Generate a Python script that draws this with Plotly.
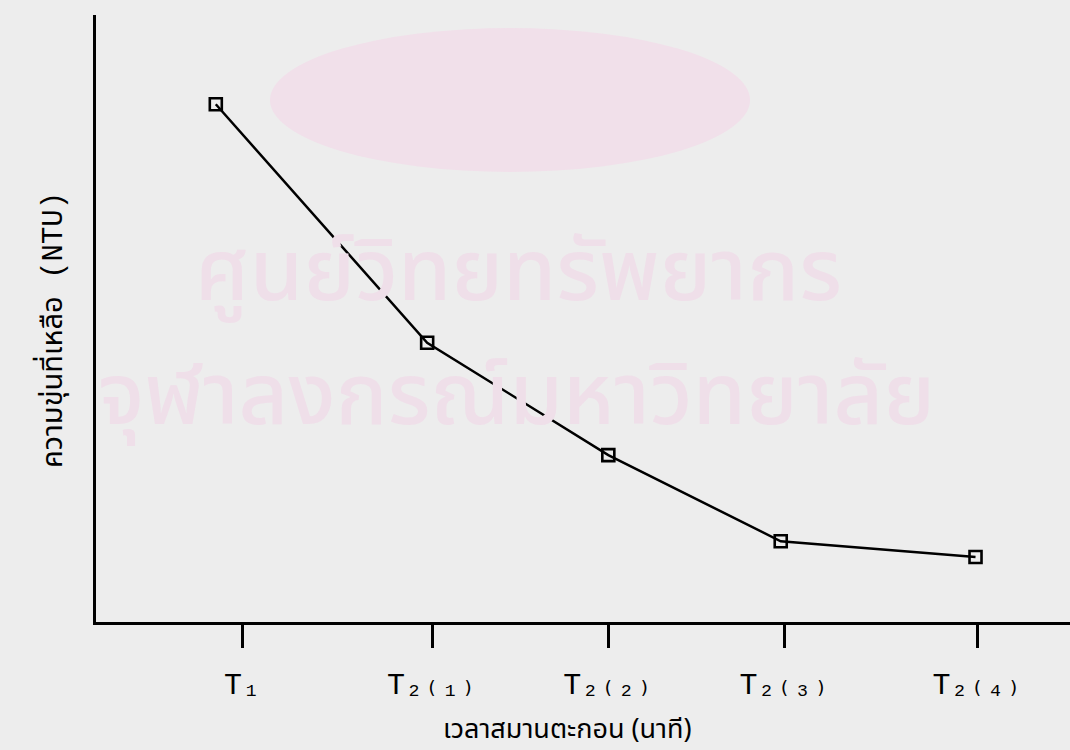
import plotly.graph_objects as go

# Data (x in axis units, y in relative turbidity units)
tick_labels = ["T₁", "T₂₍₁₎", "T₂₍₂₎", "T₂₍₃₎", "T₂₍₄₎"]
tick_positions = [1.50, 3.45, 5.26, 7.07, 9.05]
point_x = [1.23, 3.40, 5.26, 7.03, 9.03]
turbidity = [85.3, 46.0, 27.5, 13.3, 10.7]

x_title = "เวลาสมานตะกอน (นาที)"
y_title = "ความขุ่นที่เหลือ (NTU)"
watermark_1 = "ศูนย์วิทยทรัพยากร"
watermark_2 = "จุฬาลงกรณ์มหาวิทยาลัย"

BG = "#ededed"
thai_font = "Noto Sans Thai, Loma, Garuda, sans-serif"
mono_font = "Liberation Mono, Courier New, monospace"

W, H = 1070, 750
L, R, T, B = 96, 0, 15, 128
PW, PH = W - L - R, H - T - B


def px(x):
    return (x - L) / PW


def py(y):
    return (H - B - y) / PH


fig = go.Figure()
fig.add_trace(go.Scatter(
    x=point_x, y=turbidity, mode="lines+markers",
    line=dict(color="black", width=2.5),
    marker=dict(symbol="square-open", size=12, color="black", line=dict(width=2.6, color="black")),
    showlegend=False, cliponaxis=False,
))

# watermark logo (pale ellipse) and texts
fig.add_shape(type="circle", xref="paper", yref="paper", layer="below",
              x0=px(270), x1=px(750), y0=py(172), y1=py(28),
              fillcolor="#f1e0ea", line=dict(width=0))
fig.add_annotation(text=watermark_1, xref="paper", yref="paper", x=px(518), y=py(274),
                   xanchor="center", yanchor="middle", showarrow=False,
                   font=dict(family=thai_font, size=86, color="#efdfe9", weight=500))
fig.add_annotation(text=watermark_2, xref="paper", yref="paper", x=px(516), y=py(398),
                   xanchor="center", yanchor="middle", showarrow=False,
                   font=dict(family=thai_font, size=86, color="#efdfe9", weight=500))

fig.add_annotation(text=x_title, xref="paper", yref="paper", x=px(567), y=py(729),
                   xanchor="center", yanchor="middle", showarrow=False,
                   font=dict(family=thai_font, size=27, color="black"))
fig.add_annotation(text=y_title, xref="paper", yref="paper", x=px(51), y=py(330),
                   xanchor="center", yanchor="middle",
                   textangle=-90, showarrow=False,
                   font=dict(family="Liberation Mono, Noto Sans Thai, monospace", size=29, color="black"))

fig.update_layout(
    width=W, height=H,
    margin=dict(l=L, r=R, t=T, b=B),
    paper_bgcolor=BG, plot_bgcolor=BG,
    xaxis=dict(range=[0, 10], showgrid=False, zeroline=False,
               showline=True, linecolor="black", linewidth=2.5,
               tickmode="array", tickvals=tick_positions, ticktext=tick_labels,
               ticks="outside", ticklen=23, tickwidth=2.5, tickcolor="black",
               ticklabelstandoff=10,
               tickfont=dict(family=mono_font, size=30, color="black")),
    yaxis=dict(range=[0, 100], showgrid=False, zeroline=False,
               showline=True, linecolor="black", linewidth=2.5,
               showticklabels=False, ticks=""),
)

fig.write_html("out.html", config={"displayModeBar": False},
               post_script="document.body.style.margin='0';document.body.style.background='%s';" % BG)
